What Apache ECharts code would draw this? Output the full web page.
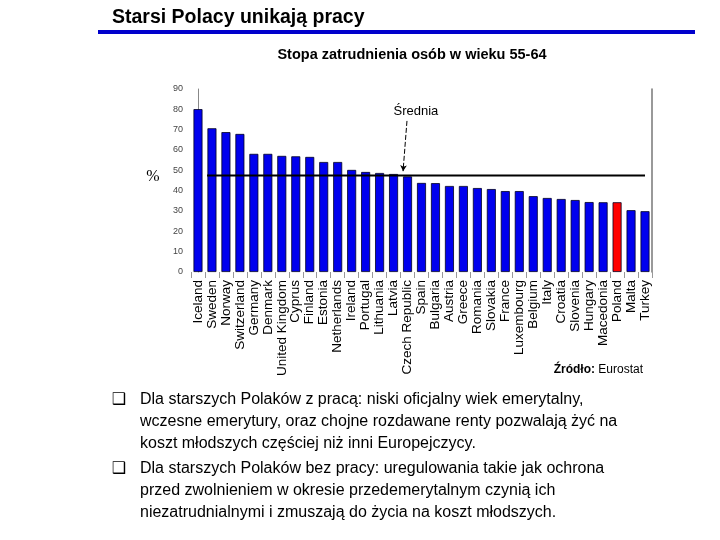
<!DOCTYPE html>
<html><head><meta charset="utf-8">
<script src="https://cdn.jsdelivr.net/npm/echarts@6/dist/echarts.min.js"></script>
<style>html,body{margin:0;padding:0;background:#fff}#c{width:720px;height:540px}</style>
</head><body><div id="c"></div>
<script>
const countries = ["Iceland","Sweden","Norway","Switzerland","Germany","Denmark","United Kingdom","Cyprus","Finland","Estonia","Netherlands","Ireland","Portugal","Lithuania","Latvia","Czech Republic","Spain","Bulgaria","Austria","Greece","Romania","Slovakia","France","Luxembourg","Belgium","Italy","Croatia","Slovenia","Hungary","Macedonia","Poland","Malta","Turkey"];
const employmentRate = [80.1,70.7,68.8,67.9,58.1,58.1,57.1,56.9,56.6,54.1,54.1,50.2,49.2,48.7,48.2,47.0,43.8,43.7,42.3,42.3,41.3,40.8,39.8,39.8,37.3,36.4,35.9,35.4,34.4,34.3,34.3,30.4,29.9];
const highlighted = "Poland";
const averageRate = 47.4;
const averageSpan = [0.65, 32.0];
const yTicks = [0,10,20,30,40,50,60,70,80,90];
const pageTitle = "Starsi Polacy unikają pracy";
const chartTitle = "Stopa zatrudnienia osób w wieku 55-64";
const bullets = [
  ["Dla starszych Polaków z pracą: niski oficjalny wiek emerytalny,","wczesne emerytury, oraz chojne rozdawane renty pozwalają żyć na","koszt młodszych częściej niż inni Europejczycy."],
  ["Dla starszych Polaków bez pracy: uregulowania takie jak ochrona","przed zwolnieniem w okresie przedemerytalnym czynią ich","niezatrudnialnymi i zmuszają do życia na koszt młodszych."]
];

const chart = echarts.init(document.getElementById('c'), null, {renderer:'canvas'});
const F = '"Liberation Sans", Arial, sans-serif';

const graphics = [
  {type:'rect', shape:{x:98,y:30,width:597,height:4}, style:{fill:'#0000cc'}},
  {type:'text', x:112, y:18, style:{text:pageTitle, font:'bold 19.5px '+F, fill:'#000', textVerticalAlign:'middle'}},
  {type:'text', x:412, y:55, style:{text:chartTitle, font:'bold 14.5px '+F, fill:'#000', textAlign:'center', textVerticalAlign:'middle'}},
  {type:'text', x:153, y:177, style:{text:'%', font:'16px "Liberation Serif", "Times New Roman", serif', fill:'#000', textAlign:'center', textVerticalAlign:'middle'}},
  {type:'text', x:643, y:370, style:{text:'{b|Źródło:} {n|Eurostat}', textAlign:'right', textVerticalAlign:'middle',
     rich:{b:{font:'bold 12px '+F, fill:'#000'}, n:{font:'12px '+F, fill:'#000'}}}}
];
let yy = 400;
bullets.forEach((lines)=>{
  graphics.push({type:'text', x:119, y:yy, style:{text:'❑', font:'16px "DejaVu Sans", sans-serif', fill:'#000', textAlign:'center', textVerticalAlign:'middle'}});
  lines.forEach((ln)=>{
    graphics.push({type:'text', x:140, y:yy, style:{text:ln, font:'16px '+F, fill:'#000', textVerticalAlign:'middle'}});
    yy += 22;
  });
  yy += 3;
});

chart.setOption({
  animation:false,
  backgroundColor:'#fff',
  graphic: graphics,
  grid:{left:191, right:68, top:89, bottom:268, containLabel:false},
  xAxis:[
    {type:'category', data:countries, boundaryGap:true,
     axisLine:{show:false}, axisTick:{show:true, length:6, lineStyle:{color:'#999'}},
     axisLabel:{interval:0, rotate:90, fontSize:13.5, fontFamily:F, color:'#000', margin:8}},
    {type:'value', min:-0.5, max:countries.length-0.5, show:false}
  ],
  yAxis:[
    {type:'value', min:0, max:90, interval:10, position:'left',
     axisLine:{show:true, lineStyle:{color:'#888', width:1}}, axisTick:{show:false},
     splitLine:{show:false},
     axisLabel:{fontSize:9, fontFamily:F, color:'#444', margin:8, formatter:(v)=>yTicks.includes(v)?String(v):''}},
    {type:'value', min:0, max:90, interval:10, position:'right',
     axisLine:{show:true, lineStyle:{color:'#777', width:1.5}}, axisTick:{show:false},
     axisLabel:{show:false}, splitLine:{show:false}}
  ],
  series:[
    {type:'bar', xAxisIndex:0, yAxisIndex:0, barWidth:9,
     data: employmentRate.map((v,i)=>({value:v, itemStyle:{color: countries[i]===highlighted?'#ff0000':'#0000ee'}})),
     itemStyle:{borderColor:'#000022', borderWidth:0.8}},
    {type:'line', xAxisIndex:1, yAxisIndex:0, symbol:'none',
     data: averageSpan.map(x=>[x, averageRate]),
     lineStyle:{color:'#000', width:2},
     markLine:{silent:true, symbol:['none','arrow'], symbolSize:[5,6],
       lineStyle:{color:'#000', type:[5,2], width:1},
       label:{show:false},
       data:[[{coord:[14.96,74.3]},{coord:[14.68,49.6]}]]},
     markPoint:{silent:true, symbol:'circle', symbolSize:0,
       data:[{coord:[15.6,78.8], label:{show:true, formatter:'Średnia', fontSize:13, fontFamily:F, color:'#000', position:'inside'}}]}
    }
  ]
});
</script></body></html>
